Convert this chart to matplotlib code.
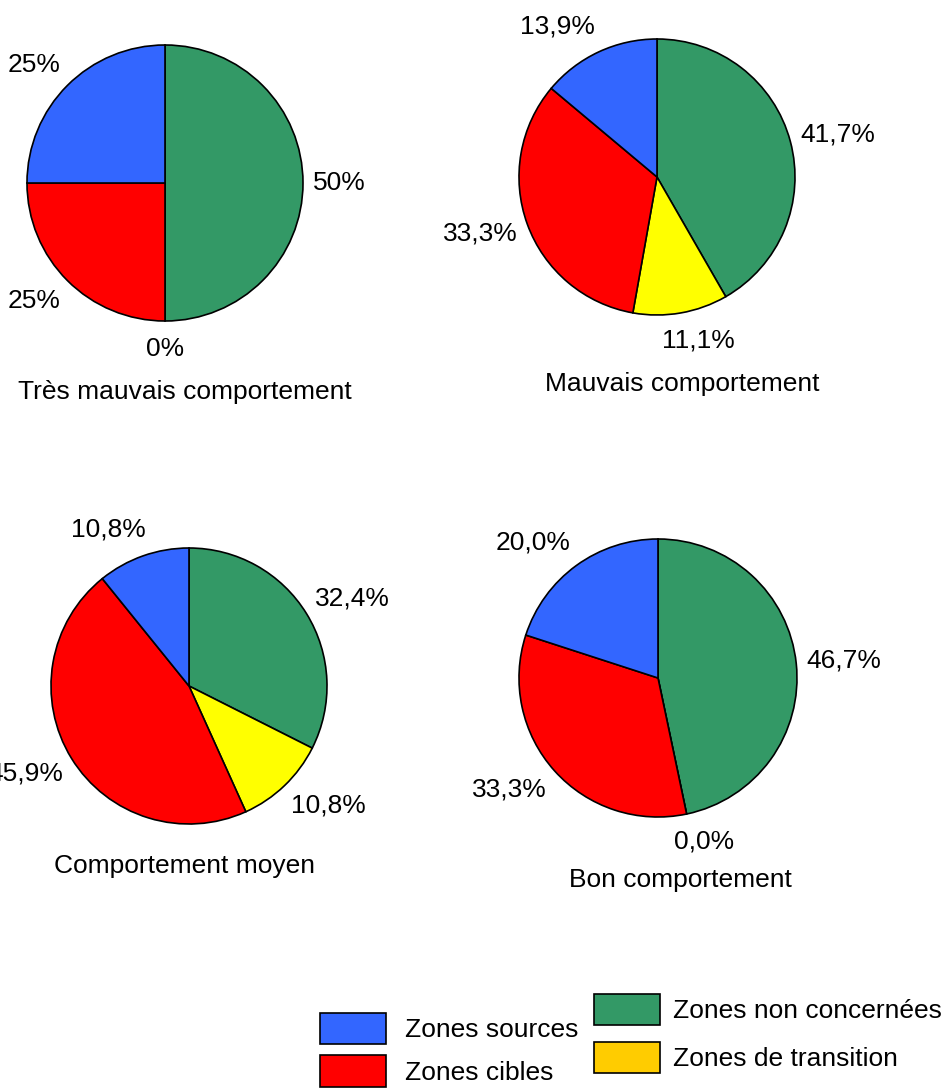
import matplotlib
matplotlib.use('Agg')
import matplotlib.pyplot as plt
from matplotlib.patches import Patch
import numpy as np

plt.rcParams['font.family'] = ['Liberation Sans', 'DejaVu Sans']

# data
zones = ['Zones non concernées', 'Zones de transition', 'Zones cibles', 'Zones sources']
pie_colors = ['#339966', '#FFFF00', '#FF0000', '#3366FF']
legend_colors = {'Zones sources': '#3366FF', 'Zones cibles': '#FF0000',
                 'Zones non concernées': '#339966', 'Zones de transition': '#FFCC00'}

titles = ['Très mauvais comportement', 'Mauvais comportement',
          'Comportement moyen', 'Bon comportement']
tres_mauvais = [50, 0, 25, 25]
mauvais = [41.7, 11.1, 33.3, 13.9]
moyen = [32.4, 10.8, 45.9, 10.8]
bon = [46.7, 0.0, 33.3, 20.0]
decimals = [0, 1, 1, 1]

W, H = 950, 1088
DPI = 100
FS = 19

# layout in pixels: centre x, centre y, radius, title x, title y
layout = [
    (165, 183, 138, 185, 392),
    (657, 177, 138, 682, 384),
    (189, 686, 138, 185, 866),
    (658, 678, 139, 680, 880),
]

fig = plt.figure(figsize=(W / DPI, H / DPI), dpi=DPI)
renderer = fig.canvas.get_renderer()


def fmt(v, nd):
    if nd == 0:
        return '%d%%' % round(v)
    return ('%.1f%%' % v).replace('.', ',')


for values, title, nd, (cx, cy, r, tx, ty) in zip(
        [tres_mauvais, mauvais, moyen, bon], titles, decimals, layout):
    ax = fig.add_axes([(cx - r) / W, 1 - (cy + r) / H, 2 * r / W, 2 * r / H])
    wedges, _ = ax.pie(values, colors=pie_colors, startangle=90, counterclock=False,
                       wedgeprops=dict(edgecolor='black', linewidth=1.2))
    ax.set_xlim(-1, 1)
    ax.set_ylim(-1, 1)
    ax.set_aspect('equal')
    ax.axis('off')

    # excel-like outside labels: box pushed away from the edge point
    for w, v in zip(wedges, values):
        theta = np.radians((w.theta1 + w.theta2) / 2)
        c, s = np.cos(theta), np.sin(theta)
        t = ax.annotate(fmt(v, nd), xy=(c, s), xycoords='data',
                        xytext=(0, 0), textcoords='offset pixels',
                        ha='center', va='center', fontsize=FS, annotation_clip=False)
        bb = t.get_window_extent(renderer)
        ox = 10 * c + bb.width / 2 * np.sign(c) * min(1.0, 2.5 * abs(c))
        oy = 15 * s + bb.height / 2 * s * 1.1
        t.set_position((ox, oy))

    fig.text(tx / W, 1 - ty / H, title, ha='center', va='center', fontsize=FS)

# legends
col1 = ['Zones sources', 'Zones cibles']
col2 = ['Zones non concernées', 'Zones de transition']
for labels, x0, y0, sp, pad in [(col1, 320, 1013, 0.42, 0.72), (col2, 594, 994, 0.62, 0.48)]:
    handles = [Patch(facecolor=legend_colors[l], edgecolor='black', linewidth=1.2) for l in labels]
    fig.legend(handles, labels, loc='upper left', bbox_to_anchor=(x0 / W, 1 - y0 / H),
               frameon=False, fontsize=FS, handlelength=2.5, handleheight=1.45,
               labelspacing=sp, handletextpad=pad, borderpad=0, borderaxespad=0)

fig.savefig('out.png', dpi=DPI)
